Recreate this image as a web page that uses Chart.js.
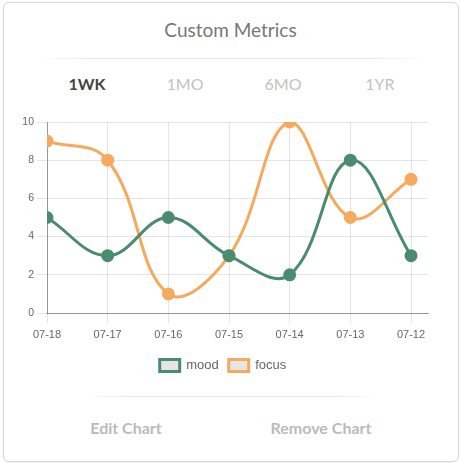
<!DOCTYPE html>
<html><head><meta charset="utf-8">
<script src="https://cdn.jsdelivr.net/npm/chart.js@4/dist/chart.umd.min.js"></script>
<style>
html,body{margin:0;padding:0;background:#fff;width:461px;height:463px;overflow:hidden;font-family:Lato,"Open Sans",sans-serif}
.card{position:absolute;left:3px;top:2px;width:454px;height:458px;border:1px solid #d8d8d8;border-radius:6px;box-shadow:0 1px 2px rgba(0,0,0,0.08)}
.title{position:absolute;left:0;top:18px;width:461px;text-align:center;font-size:19px;color:#777}
.hr{position:absolute;height:1px;background:linear-gradient(to right,rgba(230,230,230,0),#e6e6e6 15%,#e6e6e6 85%,rgba(230,230,230,0))}
.tab{position:absolute;top:74px;width:100px;margin-left:-50px;text-align:center;font-size:16px;color:#c2c2c2}
.tab.on{color:#444;font-weight:bold}
.btn{position:absolute;top:418px;width:160px;margin-left:-80px;text-align:center;font-size:16px;font-weight:bold;color:#bbb}
#wrap{position:absolute;left:0;top:0;width:461px;height:463px}
</style></head>
<body>
<div class="card"></div>
<div class="title">Custom Metrics</div>
<div class="hr" style="left:35px;top:58px;width:390px"></div>
<div class="tab on" style="left:87px">1WK</div>
<div class="tab" style="left:185px">1MO</div>
<div class="tab" style="left:283px">6MO</div>
<div class="tab" style="left:380px">1YR</div>
<div class="hr" style="left:83px;top:396px;width:295px"></div>
<div class="btn" style="left:126px">Edit Chart</div>
<div class="btn" style="left:321px">Remove Chart</div>
<div id="wrap"><canvas id="c"></canvas></div>
<script>
const categories = ["07-18","07-17","07-16","07-15","07-14","07-13","07-12"];
const moodValues = [5,3,5,3,2,8,3];
const focusValues = [9,8,1,3,10,5,7];
const yTicks = [0,2,4,6,8,10];

const green = "rgb(74,140,110)";
const orange = "rgb(245,170,95)";

function pts(vals){ return vals.map((v,i)=>({x:i,y:v})); }

new Chart(document.getElementById('c'), {
  type: 'line',
  data: {
    datasets: [
      {label:'mood', data: pts(moodValues), borderColor: green, backgroundColor: 'rgba(0,0,0,0.1)',
       pointBackgroundColor: green, pointBorderColor: green, pointRadius: 5, borderWidth: 3, tension: 0.4, fill:false},
      {label:'focus', data: pts(focusValues), borderColor: orange, backgroundColor: 'rgba(0,0,0,0.1)',
       pointBackgroundColor: orange, pointBorderColor: orange, pointRadius: 5, borderWidth: 3, tension: 0.4, fill:false}
    ]
  },
  options: {
    responsive: true, maintainAspectRatio: false, animation: false,
    layout: {padding: {left: 18, right: 33, top: 122, bottom: 81}},
    plugins: {
      tooltip: {enabled:false},
      legend: {position:'bottom', labels: {boxWidth: 20, boxHeight: 12, color:'#666', font:{size:13, family:'"Liberation Sans", Arial, sans-serif'}, padding: 10}}
    },
    scales: {
      x: {type:'linear', min:0, max:6.28,
          afterBuildTicks: s => { s.ticks = categories.map((_,i)=>({value:i})); },
          afterFit: s => { s.height = 36; },
          ticks: {callback: (v)=>categories[v], color:'#666', maxRotation:0, autoSkip:false, padding:5,
                  font:{size:11, family:'"Liberation Sans", Arial, sans-serif'}},
          grid: {color:'rgba(0,0,0,0.1)', tickLength: 10},
          border: {color:'rgba(0,0,0,0.35)'}
      },
      y: {min:0, max:10,
          afterBuildTicks: s => { s.ticks = yTicks.map(v=>({value:v})); },
          afterFit: s => { s.width = 29; },
          ticks: {color:'#666', font:{size:10.5, family:'"Liberation Sans", Arial, sans-serif'}},
          grid: {color:'rgba(0,0,0,0.1)', tickLength: 10},
          border: {color:'rgba(0,0,0,0.35)'}
      }
    }
  }
});
</script>
</body></html>
